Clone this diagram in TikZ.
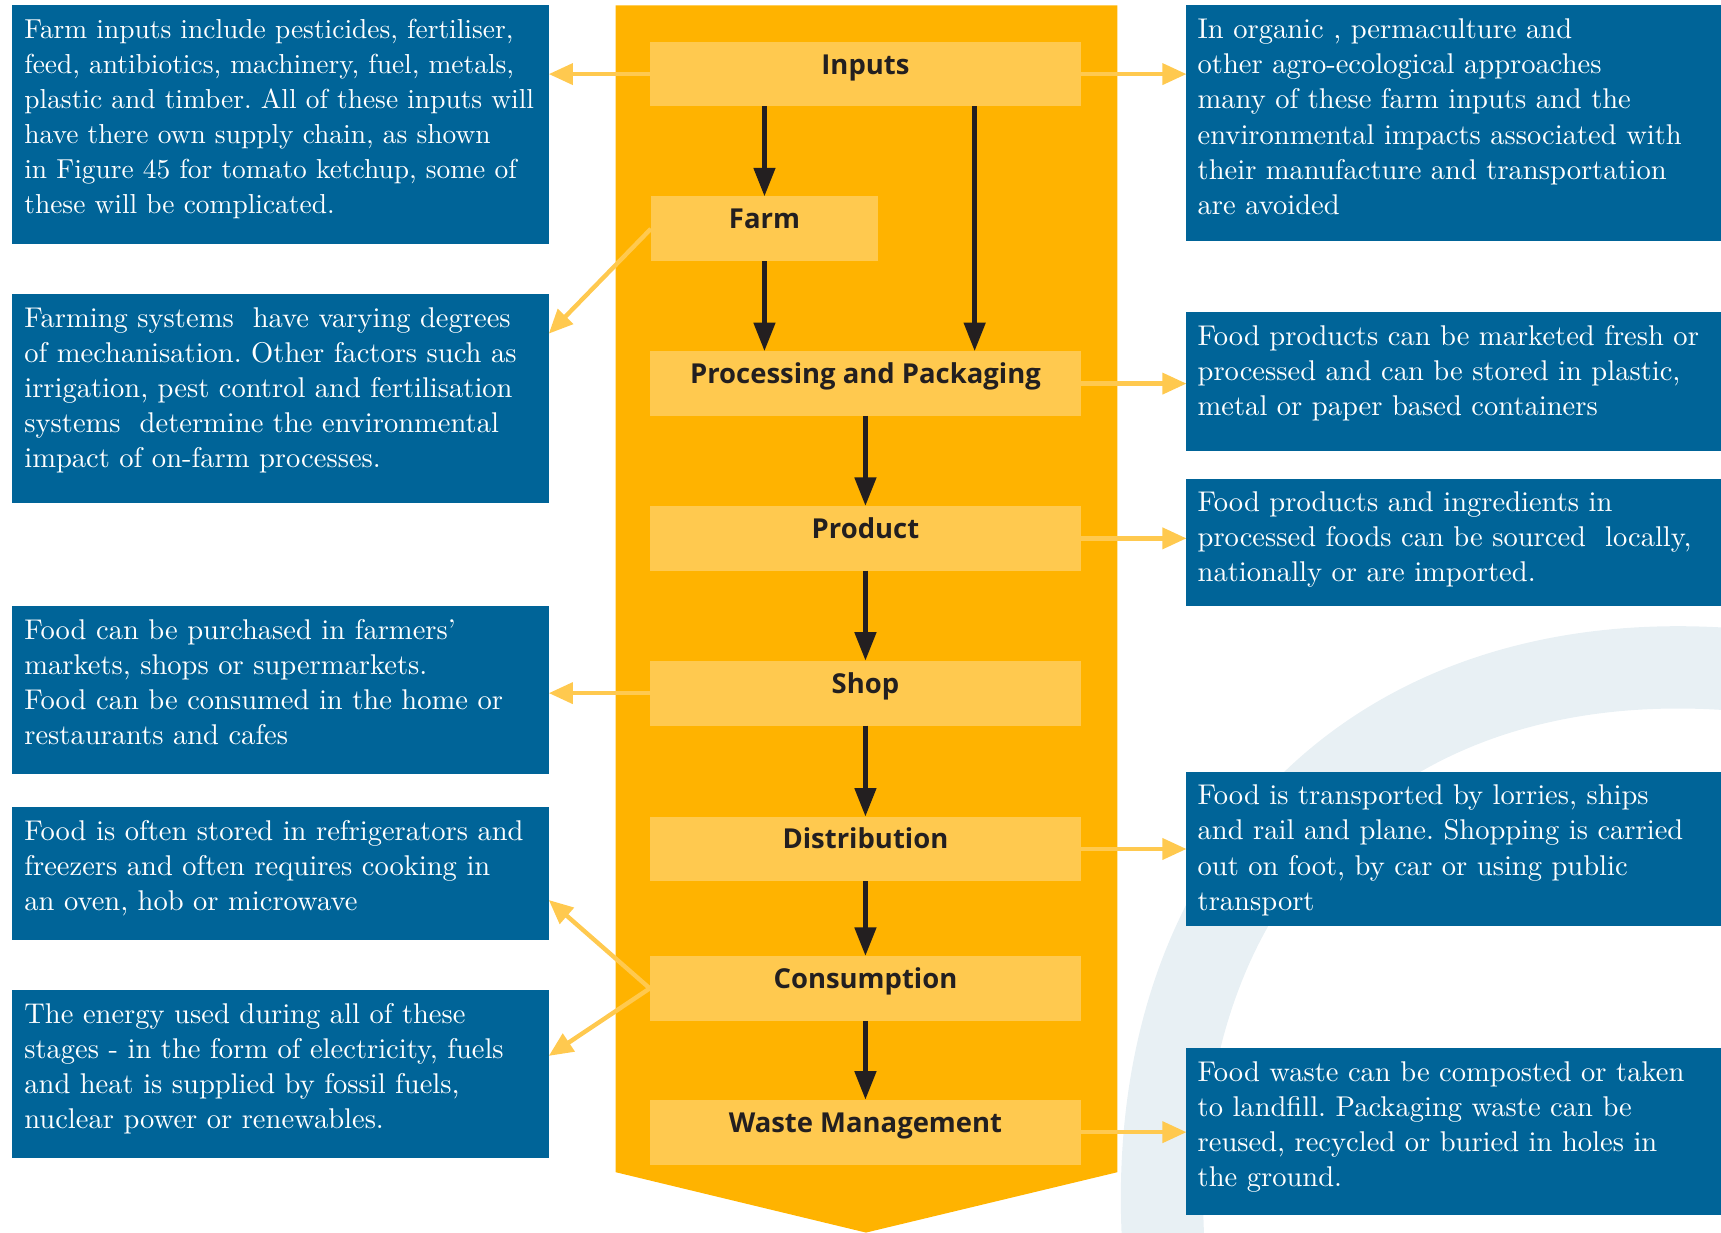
\documentclass[tikz,border=0pt]{standalone}
\usepackage{fontspec}
\setmainfont{lmroman10-regular.otf}
\newfontfamily\stagefont{Open Sans}
\usetikzlibrary{arrows.meta,positioning}
\definecolor{foodBlue}{HTML}{006498}
\definecolor{foodAmber}{HTML}{FFB300}
\definecolor{foodStage}{HTML}{FFC94F}
\definecolor{foodInk}{HTML}{231F20}
\definecolor{foodMist}{HTML}{E8F0F4}
\frenchspacing

\begin{document}
\begin{tikzpicture}[x=1pt,y=-1pt,>=Latex]
\useasboundingbox (0,0) rectangle (1568,1123);
\tikzset{stage/.style={fill=foodStage,inner sep=0pt,outer sep=0pt,minimum height=59pt,text height=13pt,text depth=13pt,text=foodInk,font=\stagefont\bfseries\fontsize{25}{30}\selectfont},
  note/.style={fill=foodBlue,inner sep=0pt,outer sep=0pt,minimum width=489pt,anchor=north west},
  notetext/.style={anchor=north west,inner sep=0pt,align=left,text=white,font=\fontsize{26}{32}\selectfont},
  flow/.style={draw=foodInk,line width=4.5pt,-{Triangle[length=26pt,width=19pt]}},
  link/.style={draw=foodStage,line width=4pt,-{Triangle[length=22pt,width=19pt]}}}
% background brush stroke and chevron
\draw[foodMist,line width=75pt] (1060,1135) .. controls (1040,800) and (1250,585) .. (1580,610);
\path[fill=foodAmber] (561,5) -- (1018,5) -- (1018,1068) -- (789,1123) -- (561,1068) -- cycle;
% notes, left
\node[note,minimum height=217pt] (farminputs) at (11,5) {};
\node[notetext,font=\fontsize{25}{32}\selectfont] (farminputstext) at ([xshift=11pt,yshift=-12pt]farminputs.north west) {Farm inputs include pesticides, fertiliser,\\feed, antibiotics, machinery, fuel, metals,\\plastic and timber. All of these inputs will\\have there own supply chain, as shown\\in Figure 45 for tomato ketchup, some of\\these will be complicated.};
\node[note,minimum height=190pt] (farmsys) at (11,268) {};
\node[notetext] (farmsystext) at ([xshift=11pt,yshift=-12pt]farmsys.north west) {Farming systems\ \ have varying degrees\\of mechanisation. Other factors such as\\irrigation, pest control and fertilisation\\systems\ \ determine the environmental\\impact of on-farm processes.};
\node[note,minimum height=153pt] (retail) at (11,552) {};
\node[notetext] (retailtext) at ([xshift=11pt,yshift=-12pt]retail.north west) {Food can be purchased in farmers’\\markets, shops or supermarkets.\\Food can be consumed in the home or\\restaurants and cafes};
\node[note,minimum height=121pt] (storage) at (11,735) {};
\node[notetext] (storagetext) at ([xshift=11pt,yshift=-12pt]storage.north west) {Food is often stored in refrigerators and\\freezers and often requires cooking in\\an oven, hob or microwave};
\node[note,minimum height=153pt] (energy) at (11,902) {};
\node[notetext] (energytext) at ([xshift=11pt,yshift=-12pt]energy.north west) {The energy used during all of these\\stages - in the form of electricity, fuels\\and heat is supplied by fossil fuels,\\nuclear power or renewables.};
% notes, right
\node[note,minimum height=215pt] (organic) at (1081,5) {};
\node[notetext] (organictext) at ([xshift=10pt,yshift=-12pt]organic.north west) {In organic , permaculture and\\other agro-ecological approaches\\many of these farm inputs and the\\environmental impacts associated with\\their manufacture and transportation\\are avoided};
\node[note,minimum height=127pt] (packaging) at (1081,284) {};
\node[notetext] (packagingtext) at ([xshift=10pt,yshift=-12pt]packaging.north west) {Food products can be marketed fresh or\\processed and can be stored in plastic,\\metal or paper based containers};
\node[note,minimum height=116pt] (sourcing) at (1081,436) {};
\node[notetext] (sourcingtext) at ([xshift=10pt,yshift=-12pt]sourcing.north west) {Food products and ingredients in\\processed foods can be sourced\ \ locally,\\nationally or are imported.};
\node[note,minimum height=141pt] (transport) at (1081,703) {};
\node[notetext] (transporttext) at ([xshift=10pt,yshift=-12pt]transport.north west) {Food is transported by lorries, ships\\and rail and plane. Shopping is carried\\out on foot, by car or using public\\transport};
\node[note,minimum height=152pt] (disposal) at (1081,955) {};
\node[notetext] (disposaltext) at ([xshift=10pt,yshift=-12pt]disposal.north west) {Food waste can be composted or taken\\to landfill. Packaging waste can be\\reused, recycled or buried in holes in\\the ground.};
% stages
\node[stage,minimum width=393pt] (inputs) at (788.5,67.5) {Inputs};
\node[stage,minimum width=207pt] (farm) at (696.5,208.5) {Farm};
\node[stage,minimum width=393pt] (proc) at (788.5,349.5) {Processing and Packaging};
\node[stage,minimum width=393pt] (product) at (788.5,490.5) {Product};
\node[stage,minimum width=393pt] (shop) at (788.5,631.5) {Shop};
\node[stage,minimum width=393pt] (distrib) at (788.5,773.5) {Distribution};
\node[stage,minimum width=393pt] (consume) at (788.5,900.5) {Consumption};
\node[stage,minimum width=393pt] (waste) at (788.5,1031.5) {Waste Management};
% yellow links to the notes
\draw[link] (inputs.west) -- (inputs.west -| farminputs.east);
\draw[link] (inputs.east) -- (inputs.east -| organic.west);
\draw[link] (farm.west) -- ([yshift=-36pt]farmsys.north east);
\draw[link] (proc.east) -- (proc.east -| packaging.west);
\draw[link] (product.east) -- (product.east -| sourcing.west);
\draw[link] (shop.west) -- (shop.west -| retail.east);
\draw[link] (distrib.east) -- (distrib.east -| transport.west);
\draw[link] (consume.west) -- ([yshift=-85pt]storage.north east);
\draw[link] (consume.west) -- ([yshift=-60pt]energy.north east);
\draw[link] (waste.east) -- (waste.east -| disposal.west);
% flow arrows
\draw[flow] (inputs.south -| farm) -- (farm.north);
\draw[flow] (farm.south) -- (farm.south |- proc.north);
\draw[flow] ([xshift=99.5pt]inputs.south) -- ([xshift=99.5pt]proc.north);
\foreach \a/\b in {proc/product,product/shop,shop/distrib,distrib/consume,consume/waste}
  \draw[flow] (\a.south) -- (\b.north);
\end{tikzpicture}
\end{document}
